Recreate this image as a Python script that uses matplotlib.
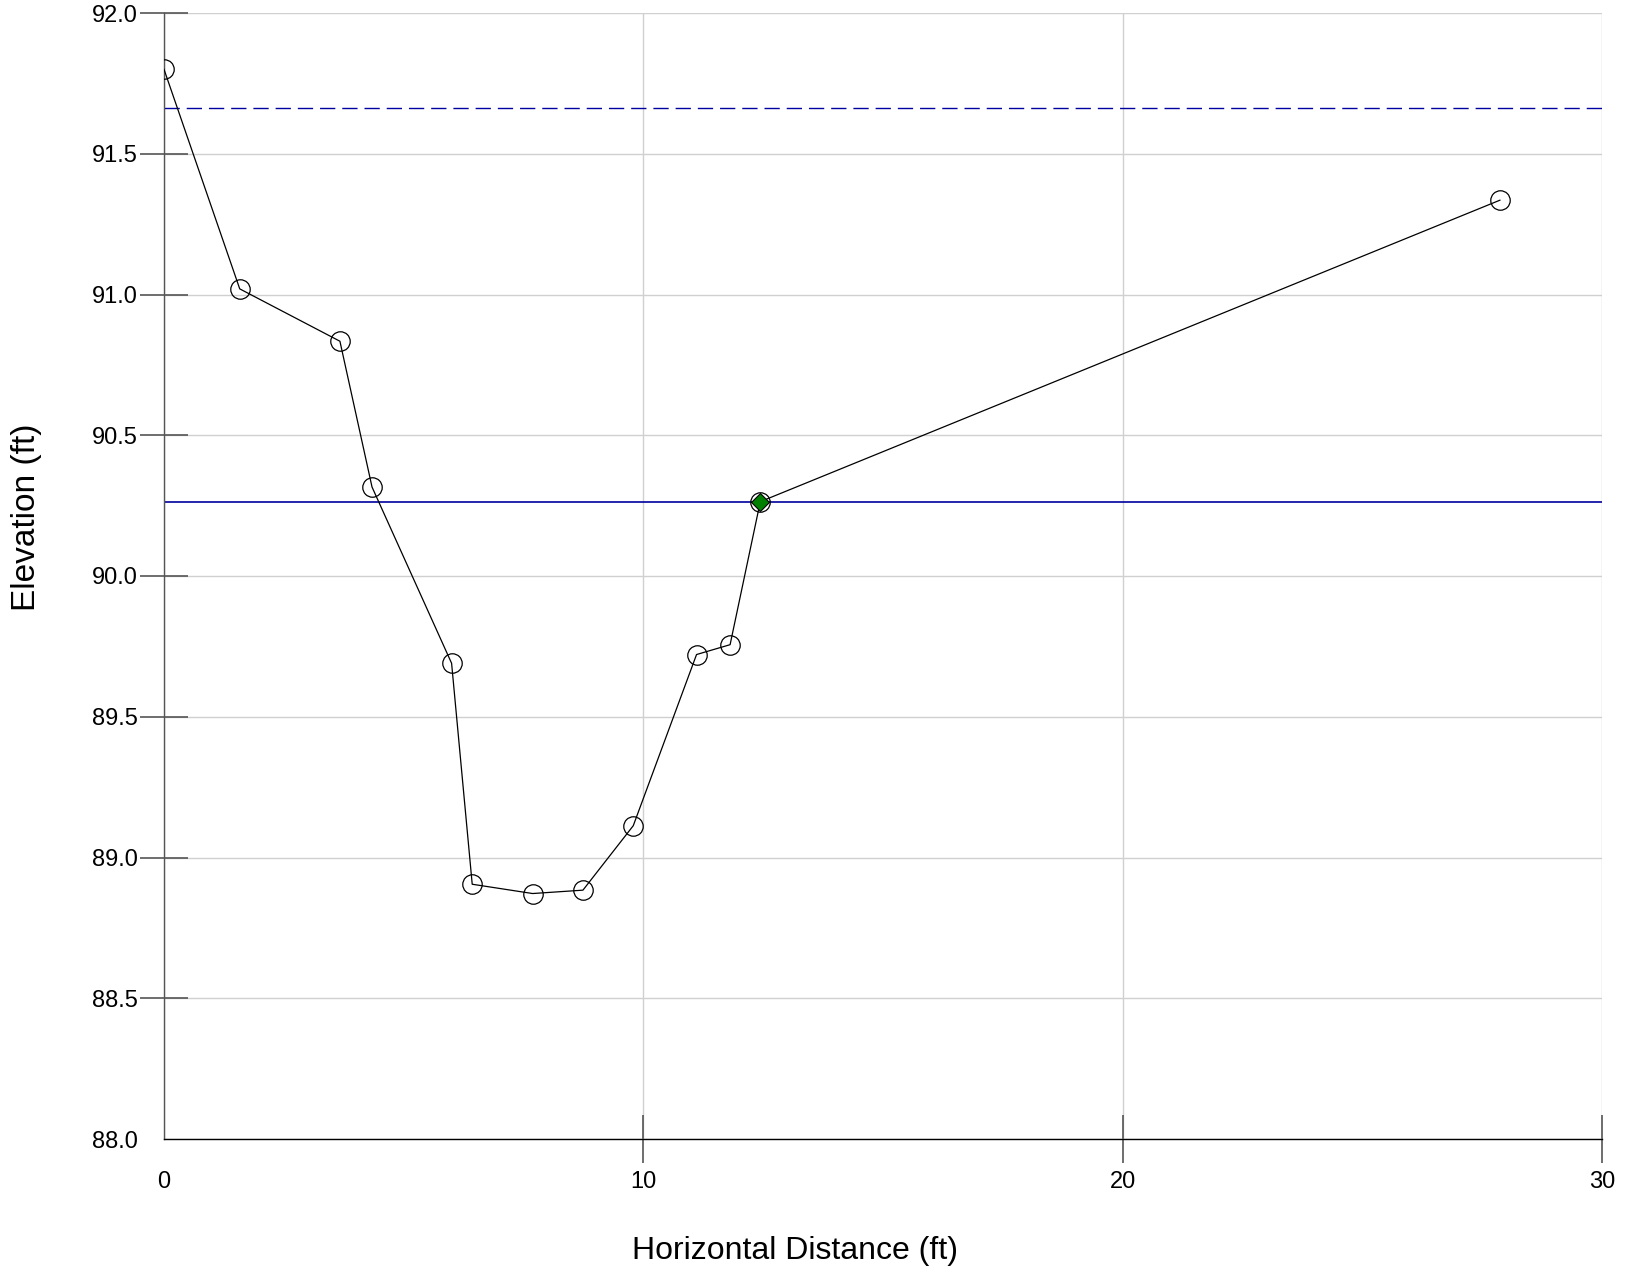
import matplotlib
matplotlib.use("Agg")
import matplotlib.pyplot as plt

plt.rcParams['font.family'] = ['Liberation Sans', 'DejaVu Sans']

# cross-section survey points
station = [0.0, 1.58, 3.67, 4.34, 6.00, 6.43, 7.69, 8.74, 9.79, 11.11, 11.81, 12.44, 27.87]
elevation = [91.80, 91.02, 90.834, 90.316, 89.69, 88.905, 88.872, 88.884, 89.113, 89.721, 89.756, 90.264, 91.335]

water_surface = 90.264
top_line = 91.662
thalweg_pt = (12.44, 90.264)

x_ticks = [0, 10, 20, 30]
y_ticks = [88.0, 88.5, 89.0, 89.5, 90.0, 90.5, 91.0, 91.5, 92.0]

fig = plt.figure(figsize=(16.27, 12.70), dpi=100)
ax = fig.add_axes([164 / 1627, 1 - 1139 / 1270, (1602 - 164) / 1627, (1139 - 13) / 1270])

ax.axhline(top_line, color='#0000a0', lw=1.0, dashes=(11, 5), zorder=2)
ax.axhline(water_surface, color='#0000a0', lw=1.2, zorder=2)

ax.plot(station, elevation, color='black', lw=0.9, marker='o', ms=14,
        mfc='none', mec='black', mew=0.9, zorder=3)
ax.plot(*thalweg_pt, marker='D', ms=9.5, mfc='#008000', mec='black', mew=0.8, zorder=4)

ax.set_xlim(0, 30)
ax.set_ylim(88, 92)
ax.set_xticks(x_ticks)
ax.set_yticks(y_ticks)
ax.set_xticklabels([str(t) for t in x_ticks])
ax.set_yticklabels([f"{t:.1f}" for t in y_ticks])

ax.grid(True, color='#d0d0d0', lw=1.0)
ax.set_axisbelow(True)
for s in ['top', 'right']:
    ax.spines[s].set_visible(False)
ax.spines['left'].set_color('#555555')
ax.spines['bottom'].set_color('black')
ax.spines['left'].set_linewidth(1.0)
ax.spines['bottom'].set_linewidth(1.0)

ax.tick_params(direction='inout', length=34, width=1.2, color='#555555',
               labelsize=17, pad=2)
ax.tick_params(axis='x', pad=6)

# no tick marks at the origin, labels only
ax.xaxis.get_major_ticks()[0].tick1line.set_visible(False)
ax.yaxis.get_major_ticks()[0].tick1line.set_visible(False)

fig.text(795 / 1627, 1 - 1251 / 1270, 'Horizontal Distance (ft)', fontsize=23,
         ha='center', va='center')
fig.text(26 / 1627, 1 - 517 / 1270, 'Elevation (ft)', fontsize=24,
         ha='center', va='center', rotation=90)

fig.savefig('out.png', dpi=100)
